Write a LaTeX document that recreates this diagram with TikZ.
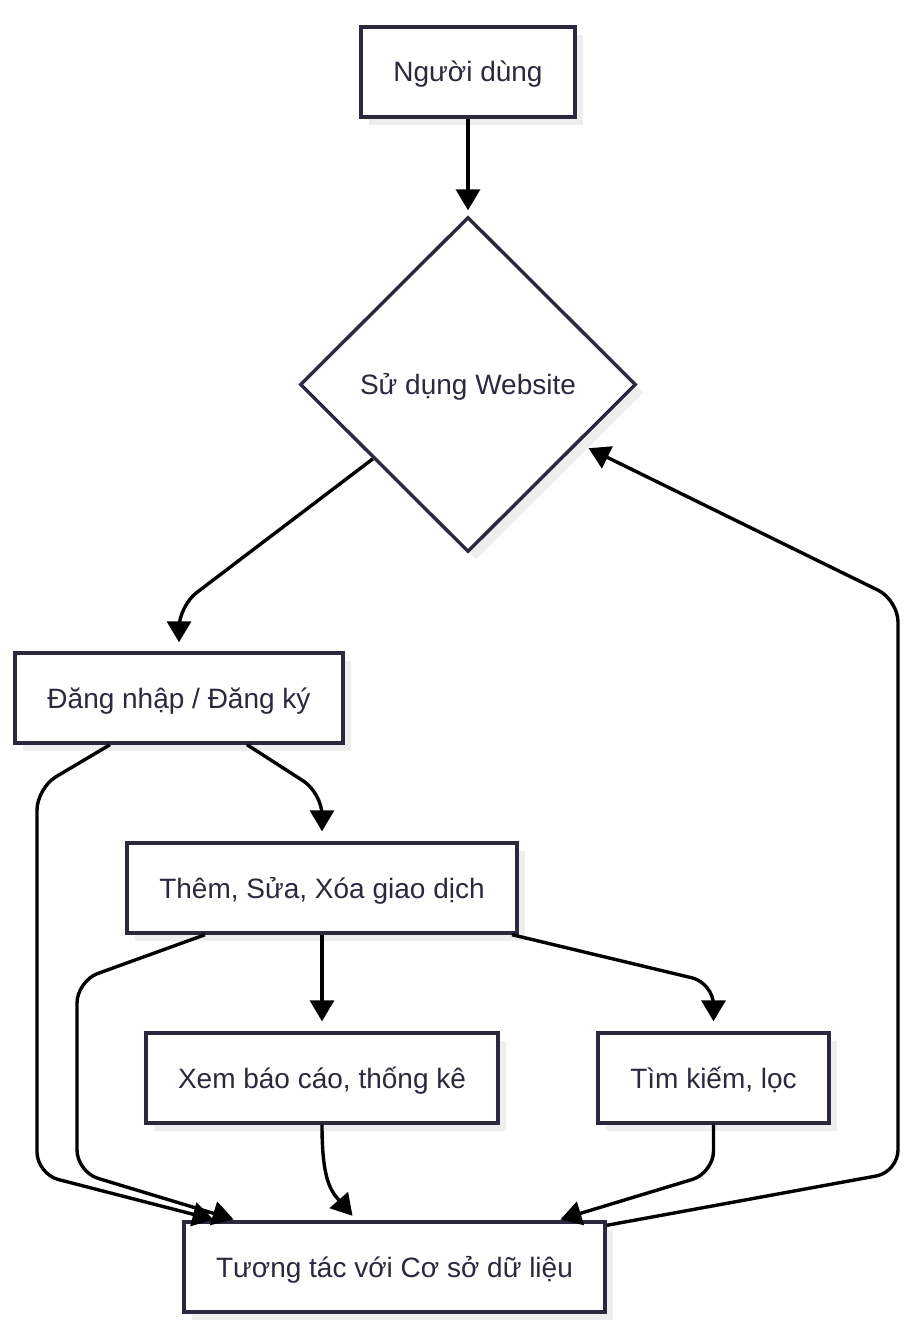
\documentclass[tikz,border=0pt]{standalone}
\usepackage{fontspec}
\setmainfont{Liberation Sans}
\usetikzlibrary{shapes.geometric,arrows.meta,shadows}
\definecolor{navy}{RGB}{42,41,62}
\definecolor{shade}{RGB}{238,238,238}
\begin{document}
\begin{tikzpicture}[x=1pt,y=-1pt,
  box/.style={draw=navy, line width=3.4pt, fill=white, text=navy, inner sep=0pt,
    minimum height=90pt, font=\fontsize{28}{34}\selectfont, text height=26pt, text depth=6pt,
    drop shadow={shadow xshift=8pt, shadow yshift=-8pt, fill=shade, opacity=1}},
  arr/.style={draw=black, line width=3.4pt, -{Triangle[length=21pt,width=24pt]}, rounded corners=22pt}]
\useasboundingbox[fill=white] (0,0) rectangle (915,1337);

\node[box, minimum width=214pt] (user) at (468,72) {Người dùng};
\node[box, diamond, minimum width=336pt, minimum height=335pt] (diam) at (468,384.5) {Sử dụng Website};
\node[box, minimum width=328pt] (login) at (179,698) {Đăng nhập / Đăng ký};
\node[box, minimum width=390pt] (thm) at (322,888) {Thêm, Sửa, Xóa giao dịch};
\node[box, minimum width=352pt] (xem) at (322,1078) {Xem báo cáo, thống kê};
\node[box, minimum width=231pt] (tim) at (713.5,1078) {Tìm kiếm, lọc};
\node[box, minimum width=421pt] (tt) at (394.5,1267) {Tương tác với Cơ sở dữ liệu};

\draw[arr, shorten >=5pt] (user) -- (diam);
\draw[arr, shorten >=9pt] (diam.218) -- (179,606) -- (login.north);
\draw[arr, shorten >=10pt] ([xshift=68pt]login.south) -- (322,793) -- (thm.north);
\draw[arr, shorten >=3pt] ([xshift=-69pt]login.south) -- (37,788) -- (37,1174) -- ([xshift=-178pt]tt.north);
\draw[arr, shorten >=3pt] ([xshift=-117pt]thm.south) -- (77,981) -- (77,1172) -- ([xshift=-158pt]tt.north);
\draw[arr, shorten >=10pt] (thm) -- (xem);
\draw[arr, shorten >=10pt] ([xshift=190pt]thm.south) -- (713.5,983) -- (tim.north);
\draw[arr, shorten >=6pt] (xem.south) .. controls (322,1178) and (330,1190) .. ([xshift=-38pt]tt.north);
\draw[arr, shorten >=3pt] (tim.south) -- (713.5,1173) -- ([xshift=163pt]tt.north);
\draw[arr, shorten >=11pt] ([yshift=-5pt]tt.north east) -- (898,1172) -- (898,600) -- (diam.-28);
\end{tikzpicture}
\end{document}
